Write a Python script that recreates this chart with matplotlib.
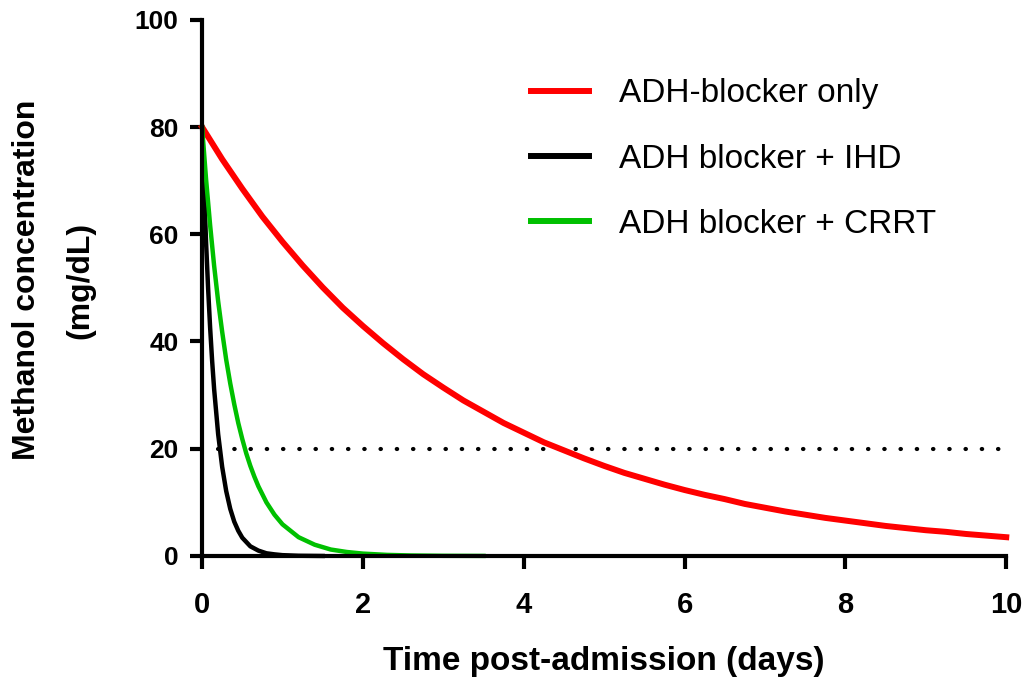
import matplotlib.pyplot as plt
import numpy as np

# values (mg/dL vs days)
t_red = [0, 0.25, 0.5, 0.75, 1, 1.25, 1.5, 1.75, 2, 2.25, 2.5, 2.75, 3, 3.25, 3.5,
         3.75, 4, 4.25, 4.5, 4.75, 5, 5.25, 5.5, 5.75, 6, 6.25, 6.5, 6.75, 7,
         7.25, 7.5, 7.75, 8, 8.25, 8.5, 8.75, 9, 9.25, 9.5, 9.75, 10]
c_red = [80, 74.0, 68.5, 63.3, 58.6, 54.2, 50.1, 46.3, 42.9, 39.7, 36.7, 33.9,
         31.4, 29.0, 26.9, 24.8, 23.0, 21.2, 19.7, 18.2, 16.8, 15.5, 14.4, 13.3,
         12.3, 11.4, 10.6, 9.7, 9.0, 8.3, 7.7, 7.1, 6.6, 6.1, 5.6, 5.2, 4.8, 4.5,
         4.1, 3.8, 3.5]

t_ihd = [0, 0.025, 0.05, 0.075, 0.1, 0.125, 0.15, 0.2, 0.25, 0.3, 0.35, 0.4, 0.45,
         0.5, 0.6, 0.7, 0.8, 0.9, 1.0, 1.2, 1.5]
c_ihd = [80, 68.3, 58.4, 49.9, 42.6, 36.4, 31.1, 22.7, 16.6, 12.1, 8.8, 6.4, 4.7,
         3.4, 1.8, 1.0, 0.5, 0.3, 0.15, 0.04, 0.0]

t_crrt = [0, 0.05, 0.1, 0.15, 0.2, 0.25, 0.3, 0.35, 0.4, 0.45, 0.5, 0.55, 0.6, 0.65,
          0.7, 0.8, 0.9, 1.0, 1.2, 1.4, 1.6, 1.8, 2.0, 2.3, 2.6, 3.0, 3.5]
c_crrt = [80, 70.2, 61.7, 54.1, 47.5, 41.8, 36.6, 32.2, 28.3, 24.8, 21.8, 19.1,
          16.8, 14.8, 13.0, 10.0, 7.7, 5.9, 3.5, 2.1, 1.2, 0.74, 0.44, 0.2, 0.09,
          0.03, 0.01]

threshold = 20
thr_span = [0.2, 10]

labels = ['ADH-blocker only', 'ADH blocker + IHD', 'ADH blocker + CRRT']
colors = ['#ff0000', '#000000', '#00c000']

plt.rcParams['font.family'] = ['Liberation Sans', 'DejaVu Sans']

fig = plt.figure(figsize=(10.31, 6.83), dpi=100)
ax = fig.add_axes([0.196, 0.186, 0.780, 0.785])

ax.plot(thr_span, [threshold, threshold], color='black', lw=3,
        linestyle=(0, (0.1, 3.8)), dash_capstyle='round', zorder=1)
ax.plot(t_red, c_red, color=colors[0], lw=4.3, label=labels[0], clip_on=False)
ax.plot(t_ihd, c_ihd, color=colors[1], lw=3.2, label=labels[1], clip_on=False)
ax.plot(t_crrt, c_crrt, color=colors[2], lw=3.2, label=labels[2], clip_on=False)

ax.set_xlim(0, 10)
ax.set_ylim(0, 100)
ax.set_xticks([0, 2, 4, 6, 8, 10])
ax.set_yticks([0, 20, 40, 60, 80, 100])

for s in ['top', 'right']:
    ax.spines[s].set_visible(False)
for s in ['left', 'bottom']:
    ax.spines[s].set_linewidth(3)
ax.tick_params(width=3, length=9, direction='out', pad=8)
ax.tick_params(axis='y', labelsize=19)
ax.tick_params(axis='x', labelsize=21, pad=16)
for lab in ax.get_xticklabels() + ax.get_yticklabels():
    lab.set_fontweight('bold')

ax.set_xlabel('Time post-admission (days)', fontsize=24, fontweight='bold', labelpad=20)
fig.text(0.026, 0.59, 'Methanol concentration', rotation=90, fontsize=23,
         fontweight='bold', ha='center', va='center')
fig.text(0.078, 0.59, '(mg/dL)', rotation=90, fontsize=23,
         fontweight='bold', ha='center', va='center')

leg = ax.legend(loc='upper left', bbox_to_anchor=(0.486, 0.929),
                bbox_transform=fig.transFigure, frameon=False, fontsize=24,
                handlelength=1.74, handletextpad=0.9, labelspacing=1.03)
for line in leg.get_lines():
    line.set_linewidth(4.3)

fig.savefig('out.png', dpi=100)
